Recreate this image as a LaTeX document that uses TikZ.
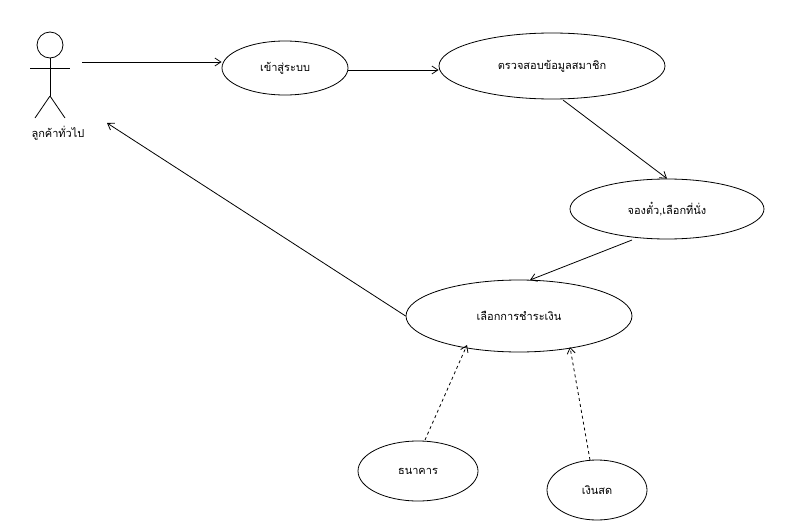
\documentclass[tikz,border=0pt]{standalone}
\usepackage{fontspec}
\newfontfamily\thaifont[Script=Thai]{Loma}
\usetikzlibrary{arrows.meta,shapes.geometric}
\begin{document}
\begin{tikzpicture}[x=1pt,y=-1pt,line width=0.8pt,
  uc/.style={draw,ellipse,minimum width=#1,font=\thaifont\fontsize{11}{13}\selectfont,inner sep=0pt},
  uc/.default=120pt,
  arr/.style={draw,-{Straight Barb[length=6pt,width=8pt]}},
  dep/.style={arr,dashed}]
\useasboundingbox (0,0) rectangle (809,530);
% actor
\node[draw,circle,minimum size=26pt,inner sep=0pt] (head) at (50,45) {};
\coordinate (hip) at (50,96);
\draw (head.south) -- (hip);
\draw (30,68) -- (70,68);
\draw (hip) -- (35,118);
\draw (hip) -- (65,118);
\node[font=\thaifont\fontsize{11}{13}\selectfont] (actor) at (58,133) {ลูกค้าทั่วไป};
\coordinate (a1) at (82,62);
\coordinate (a2) at (107,123);
\node[uc,minimum width=126pt,minimum height=54pt] (login) at (285,68) {เข้าสู่ระบบ};
\node[uc,minimum width=226pt,minimum height=66pt] (check) at (552,66) {ตรวจสอบข้อมูลสมาชิก};
\node[uc,minimum width=194pt,minimum height=60pt] (book) at (667,209) {จองตั๋ว,เลือกที่นั่ง};
\node[uc,minimum width=226pt,minimum height=72pt] (pay) at (519,316) {เลือกการชำระเงิน};
\node[uc,minimum width=120pt,minimum height=60pt] (bank) at (418,471) {ธนาคาร};
\node[uc,minimum width=100pt,minimum height=60pt] (cash) at (597,490) {เงินสด};
\draw[arr] (a1) -- (login.west|-a1);
\draw[arr] (login.east|-0,70) -- (check.west|-0,70);
\draw[arr] (563,100) -- (book.north);
\draw[arr] (632,240) -- (530,280);
\draw[arr] (pay.west) -- (a2);
\draw[dep] (425,440) -- (467,345);
\draw[dep] (590,460) -- (570,347);
\end{tikzpicture}
\end{document}
